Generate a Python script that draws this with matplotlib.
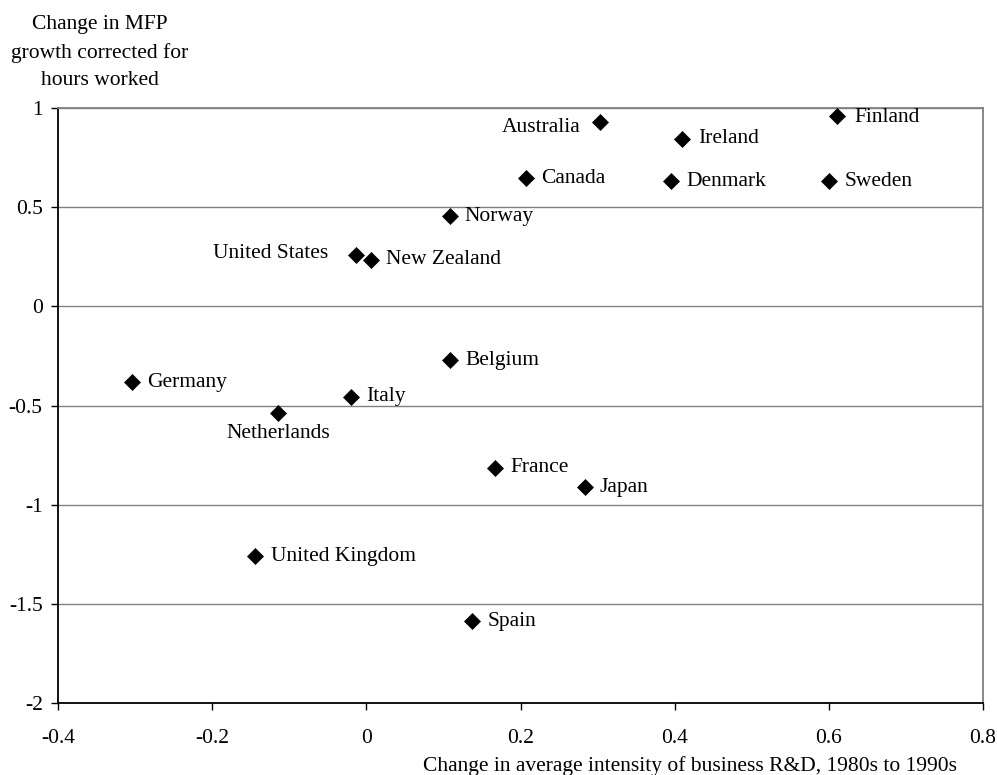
import matplotlib
matplotlib.use("Agg")
import matplotlib.pyplot as plt

countries = ["Australia", "Ireland", "Finland", "Canada", "Denmark", "Sweden",
             "Norway", "United States", "New Zealand", "Belgium", "Germany",
             "Italy", "Netherlands", "France", "Japan", "United Kingdom", "Spain"]
rd_change = [0.303, 0.410, 0.610, 0.207, 0.395, 0.600,
             0.108, -0.013, 0.006, 0.109, -0.304,
             -0.020, -0.114, 0.167, 0.283, -0.144, 0.137]
mfp_change = [0.929, 0.846, 0.958, 0.647, 0.630, 0.630,
              0.455, 0.261, 0.236, -0.272, -0.382,
              -0.457, -0.538, -0.813, -0.911, -1.261, -1.587]
# label placement: (dx, dy) in points, ha, va
label_pos = {
    "Australia": (-14, -4, "right", "center"),
    "United States": (-20, 1, "right", "center"),
    "Netherlands": (0, -15, "center", "center"),
    "Finland": (13, -1, "left", "center"),
}
x_ticks = [-0.4, -0.2, 0, 0.2, 0.4, 0.6, 0.8]
x_ticklabels = ["-0.4", "-0.2", "0", "0.2", "0.4", "0.6", "0.8"]
y_ticks = [-2, -1.5, -1, -0.5, 0, 0.5, 1]
y_ticklabels = ["-2", "-1.5", "-1", "-0.5", "0", "0.5", "1"]

plt.rcParams['font.family'] = ['Liberation Serif', 'DejaVu Serif']
fs = 15.5

fig = plt.figure(figsize=(9.97, 7.75), dpi=100)
ax = fig.add_axes([0.0582, 0.0929, 0.9278, 0.7677])
ax.set_xlim(-0.4, 0.8)
ax.set_ylim(-2, 1)

for yv in [-1.5, -1, -0.5, 0, 0.5, 1]:
    ax.axhline(yv, color="#808080", lw=1.0, zorder=1)

ax.scatter(rd_change, mfp_change, marker="D", s=75, color="black", zorder=3, linewidths=0)

for name, xv, yv in zip(countries, rd_change, mfp_change):
    dx, dy, ha, va = label_pos.get(name, (11, 0, "left", "center"))
    ax.annotate(name, (xv, yv), xytext=(dx, dy), textcoords="offset points",
                ha=ha, va=va, fontsize=fs, zorder=4)

ax.set_xticks(x_ticks)
ax.set_xticklabels(x_ticklabels, fontsize=fs)
ax.set_yticks(y_ticks)
ax.set_yticklabels(y_ticklabels, fontsize=fs)
ax.tick_params(axis="y", direction="out", length=5, width=1, color="black", pad=6)
ax.tick_params(axis="x", direction="out", length=5, width=1, color="black", pad=14)

for s in ["left", "bottom"]:
    ax.spines[s].set_color("black")
    ax.spines[s].set_linewidth(1.3)
for s in ["top", "right"]:
    ax.spines[s].set_color("#808080")
    ax.spines[s].set_linewidth(1.3)

fig.text(0.1, 0.98, "Change in MFP\ngrowth corrected for\nhours worked", ha="center", va="top",
         fontsize=fs, linespacing=1.58)
fig.text(0.96, 0.012, "Change in average intensity of business R&D, 1980s to 1990s",
         ha="right", va="center", fontsize=fs)

fig.savefig("out.png", dpi=100)
